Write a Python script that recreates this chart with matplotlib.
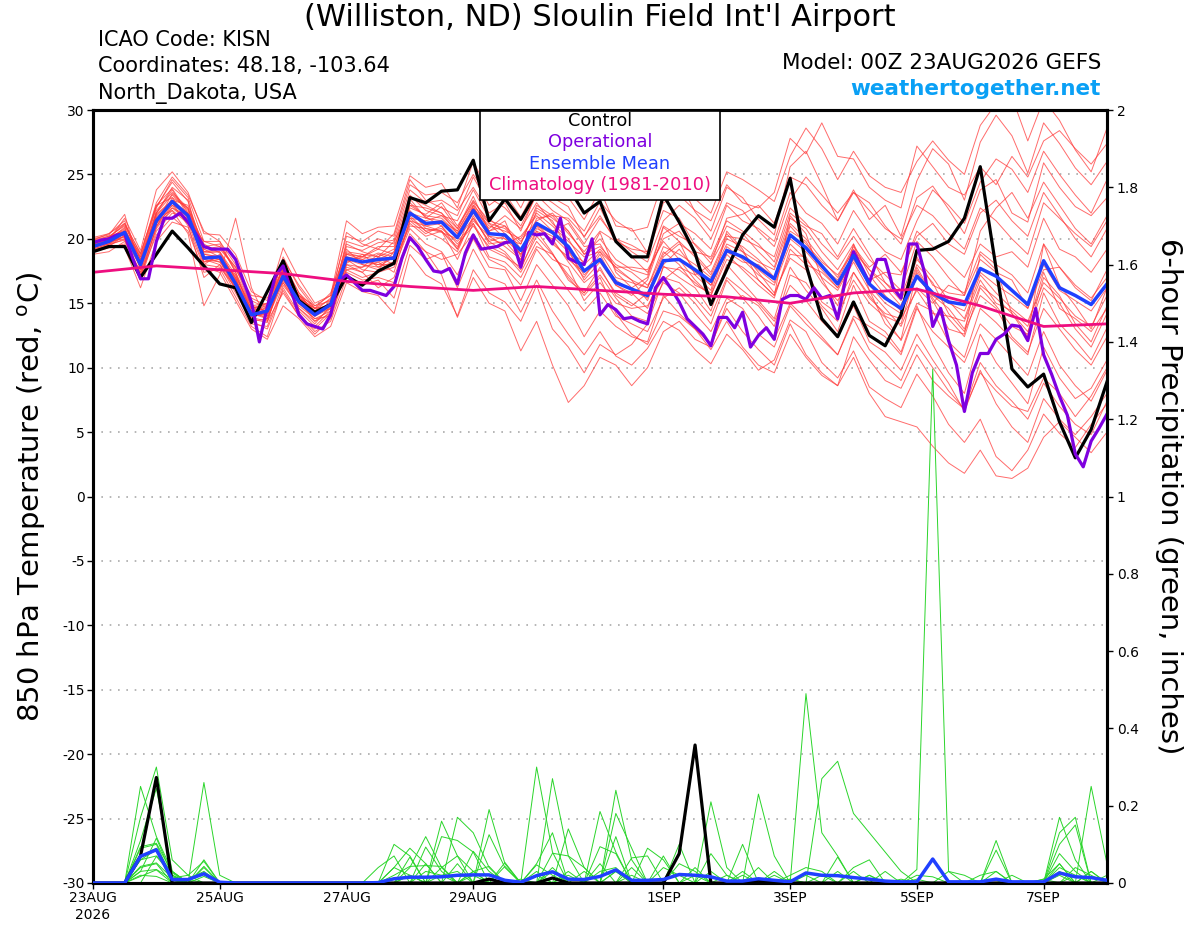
import numpy as np
import matplotlib
matplotlib.use("Agg")
from matplotlib import pyplot as plt
from matplotlib.patches import Rectangle

plt.rcParams["font.family"] = ["DejaVu Sans"]
plt.rcParams["axes.unicode_minus"] = False

# forecast hours (GEFS 00Z run, 6-hourly; operational 3-hourly)
HOURS_6 = list(range(0, 385, 6))
HOURS_3 = list(range(0, 385, 3))

DATE_TICK_DAYS = [0, 2, 4, 6, 9, 11, 13, 15]
DATE_TICK_LABELS = ["23AUG\n2026", "25AUG", "27AUG", "29AUG", "1SEP", "3SEP", "5SEP", "7SEP"]

# climatology, one value per day
CLIM_DAYS = list(range(0, 17))
CLIM_T = [17.4, 17.9, 17.6, 17.3, 16.7, 16.3, 16.0, 16.3, 16.0,
          15.7, 15.5, 15.0, 15.8, 16.1, 14.8, 13.2, 13.4]

CTRL_T = [19.0, 19.4, 19.4, 17.0, 18.8, 20.6, 19.3, 17.9,
          16.5, 16.2, 13.5, 15.9, 18.3, 15.2, 14.3, 14.9,
          17.1, 16.4, 17.5, 18.1, 23.2, 22.8, 23.7, 23.8,
          26.1, 21.4, 23.1, 21.5, 23.6, 24.5, 24.0, 22.0,
          22.9, 19.8, 18.6, 18.6, 23.4, 21.3, 18.9, 14.9,
          17.6, 20.3, 21.8, 20.9, 24.7, 18.0, 13.8, 12.4,
          15.1, 12.5, 11.7, 14.1, 19.1, 19.2, 19.8, 21.6,
          25.6, 17.7, 9.9, 8.5, 9.5, 5.8, 3.0, 5.2, 8.9]

MEAN_T = [19.4, 19.8, 20.5, 18.0, 21.4, 22.9, 21.8, 18.5,
          18.6, 16.5, 14.1, 14.4, 17.1, 15.1, 14.1, 14.9,
          18.5, 18.2, 18.4, 18.5, 22.0, 21.2, 21.3, 20.1,
          22.2, 20.4, 20.3, 19.1, 21.2, 20.5, 19.4, 17.5,
          18.4, 16.6, 16.1, 15.6, 18.3, 18.4, 17.6, 16.7,
          19.1, 18.6, 17.8, 16.9, 20.3, 19.3, 17.9, 16.5,
          18.7, 16.5, 15.4, 14.6, 17.1, 15.8, 15.1, 14.9,
          17.7, 17.1, 16.0, 14.9, 18.3, 16.2, 15.6, 14.9, 16.5]

OPER_T = [19.7, 19.9, 20.0, 20.3, 20.4, 18.5, 16.9, 16.9, 19.8, 21.6,
          21.6, 22.0, 21.3, 20.4, 19.4, 19.2, 19.2, 19.2, 18.4, 16.7,
          15.1, 12.0, 14.7, 17.1, 17.9, 16.0, 14.1, 13.4, 13.2, 13.0,
          14.1, 16.7, 17.2, 16.6, 16.0, 16.0, 15.8, 15.6, 16.3, 18.5,
          20.1, 19.4, 18.4, 17.5, 17.4, 17.7, 16.5, 18.9, 20.3, 19.2,
          19.3, 19.4, 19.7, 19.8, 17.8, 20.5, 20.3, 20.4, 19.6, 21.6,
          18.5, 18.2, 18.0, 20.0, 14.1, 14.9, 14.5, 13.8, 13.9, 13.6,
          13.4, 16.2, 17.0, 16.1, 15.1, 13.8, 13.2, 12.6, 11.7, 13.9,
          13.9, 13.1, 14.3, 11.6, 12.5, 13.1, 12.2, 15.3, 15.6, 15.6,
          15.3, 16.2, 15.4, 15.6, 13.8, 16.9, 19.0, 17.8, 16.6, 18.4,
          18.4, 16.2, 15.4, 19.6, 19.6, 17.3, 13.2, 14.6, 12.1, 10.2,
          6.6, 9.6, 11.1, 11.1, 12.2, 12.6, 13.3, 13.2, 12.1, 14.6,
          11.0, 9.5, 7.8, 6.3, 3.3, 2.3, 4.3, 5.3, 6.4]

MEMBERS_T = [
    [19.8, 20.2, 21.0, 18.6, 22.5, 24.4, 22.9, 19.0, 19.2, 17.8, 14.8, 14.0, 18.0, 15.8, 14.6, 15.3,
     20.5, 19.6, 19.2, 20.4, 24.6, 23.0, 22.4, 21.8, 24.8, 22.6, 23.5, 21.7, 24.0, 23.2, 22.5, 20.1,
     22.4, 20.0, 19.5, 18.8, 23.6, 24.5, 22.1, 20.6, 24.0, 23.2, 21.5, 20.3, 25.6, 26.8, 24.2, 21.4,
     23.8, 21.5, 22.6, 20.2, 24.5, 27.0, 25.8, 23.0, 27.5, 29.6, 28.0, 25.1, 29.0, 27.4, 25.5, 24.2, 26.0],
    [19.0, 19.3, 19.6, 17.2, 20.3, 21.7, 20.6, 17.4, 17.7, 15.5, 13.2, 12.4, 16.2, 14.2, 12.8, 13.6,
     17.0, 16.4, 16.8, 15.4, 19.5, 18.4, 18.9, 16.2, 19.2, 17.0, 16.5, 14.3, 16.8, 14.4, 12.6, 11.0,
     12.8, 10.9, 10.2, 11.5, 13.6, 12.9, 11.4, 10.3, 12.6, 11.4, 9.8, 10.6, 13.7, 12.8, 10.4, 9.2,
     11.3, 8.5, 7.6, 6.9, 9.5, 7.8, 5.6, 4.2, 6.0, 3.1, 2.0, 3.6, 6.4, 4.9, 3.8, 5.6, 7.2],
    [19.6, 20.0, 20.8, 18.4, 21.2, 23.5, 22.3, 19.6, 18.9, 16.9, 13.8, 13.5, 17.5, 15.4, 14.2, 15.0,
     19.2, 18.0, 17.6, 19.0, 23.1, 21.6, 22.5, 20.8, 23.3, 20.6, 21.4, 18.6, 22.2, 21.4, 19.0, 18.2,
     20.5, 17.4, 16.2, 17.0, 20.9, 19.8, 17.2, 16.0, 20.6, 19.2, 16.8, 15.6, 21.8, 20.4, 16.9, 14.8,
     19.6, 16.0, 13.4, 12.2, 17.4, 15.2, 13.0, 12.6, 18.8, 17.6, 14.2, 12.4, 19.6, 16.4, 14.8, 13.0, 16.2],
    [19.3, 19.9, 21.6, 19.1, 23.8, 25.2, 23.6, 20.4, 20.3, 18.8, 15.9, 15.2, 19.3, 16.9, 15.0, 15.6,
     21.4, 20.4, 20.9, 21.0, 24.9, 24.0, 24.3, 22.4, 26.0, 23.6, 24.4, 22.4, 25.0, 24.6, 23.2, 21.5,
     23.8, 21.0, 20.8, 18.9, 22.2, 21.6, 19.5, 18.1, 20.4, 19.0, 17.4, 15.8, 18.5, 17.6, 15.1, 14.2,
     16.8, 15.0, 13.9, 12.1, 15.0, 14.4, 12.0, 10.8, 14.6, 13.5, 12.2, 11.0, 15.8, 13.4, 12.1, 10.6, 13.1],
    [19.1, 19.5, 19.3, 16.2, 19.8, 21.3, 20.9, 17.8, 17.4, 15.2, 13.0, 12.2, 14.8, 13.8, 12.4, 13.2,
     16.6, 15.9, 15.6, 14.2, 18.8, 17.2, 16.5, 14.0, 17.6, 15.8, 15.1, 13.6, 16.4, 13.0, 11.6, 9.6,
     11.8, 11.0, 11.8, 13.4, 16.8, 17.8, 17.2, 18.0, 21.6, 21.9, 22.6, 21.2, 24.8, 24.2, 22.6, 21.4,
     23.6, 22.8, 21.0, 19.6, 23.2, 24.1, 22.3, 20.4, 23.8, 24.6, 22.0, 21.3, 25.9, 24.0, 22.5, 21.8, 23.2],
    [20.0, 20.3, 21.9, 17.6, 22.0, 24.0, 23.0, 18.0, 17.8, 16.2, 14.4, 14.6, 16.6, 14.6, 13.6, 14.2,
     18.1, 18.8, 17.8, 18.2, 21.0, 20.8, 20.5, 20.0, 21.6, 19.8, 19.0, 17.6, 20.6, 18.9, 16.8, 15.8,
     17.2, 15.4, 14.0, 13.6, 17.9, 17.0, 16.2, 14.4, 18.0, 16.6, 15.2, 13.8, 17.8, 16.0, 14.6, 12.8,
     16.4, 13.6, 12.8, 11.2, 14.8, 11.8, 9.6, 8.0, 12.6, 10.4, 8.8, 7.2, 11.6, 9.2, 7.6, 8.4, 10.6],
    [19.5, 19.7, 20.2, 18.2, 21.0, 22.6, 21.2, 18.9, 19.0, 16.8, 14.6, 14.9, 17.8, 15.6, 14.4, 15.4,
     19.4, 19.1, 19.7, 19.9, 23.8, 22.8, 23.0, 22.2, 24.0, 22.0, 22.8, 20.6, 23.6, 22.8, 21.9, 20.6,
     22.9, 21.4, 20.6, 20.9, 24.6, 23.8, 23.1, 22.0, 25.2, 24.6, 23.8, 22.9, 26.4, 28.6, 27.0, 24.6,
     26.8, 24.9, 24.0, 23.6, 26.0, 27.6, 26.1, 25.0, 28.8, 30.5, 31.0, 27.6, 30.8, 29.2, 26.9, 25.2, 28.6],
    [19.2, 19.6, 20.4, 17.8, 21.7, 22.8, 21.0, 17.0, 18.0, 15.8, 13.6, 13.0, 16.0, 14.0, 12.6, 13.8,
     17.6, 17.0, 17.4, 17.8, 20.8, 19.6, 19.0, 17.2, 20.0, 17.8, 17.6, 15.2, 18.0, 16.4, 14.8, 12.4,
     14.4, 13.2, 12.4, 12.0, 15.6, 14.2, 13.0, 11.8, 14.6, 12.8, 11.4, 10.2, 13.4, 11.0, 9.6, 8.6,
     10.8, 8.0, 6.2, 5.8, 5.4, 3.9, 2.6, 1.8, 3.6, 1.6, 1.4, 2.2, 4.6, 5.8, 4.6, 3.4, 5.0],
    [19.7, 20.1, 21.1, 18.9, 22.6, 23.9, 22.0, 18.2, 18.4, 16.0, 14.0, 14.2, 17.0, 15.2, 14.2, 14.6,
     18.6, 18.4, 18.9, 18.6, 22.8, 21.7, 21.0, 19.2, 22.6, 20.0, 19.6, 20.2, 21.8, 20.6, 21.2, 19.4,
     19.6, 17.6, 16.8, 15.2, 18.6, 19.6, 18.8, 17.4, 20.2, 20.0, 19.4, 18.6, 22.4, 21.2, 19.6, 18.4,
     20.2, 18.4, 17.2, 16.0, 19.8, 18.6, 17.0, 15.6, 20.6, 22.4, 23.6, 21.6, 24.4, 22.6, 20.8, 19.6, 21.8],
    [19.4, 19.8, 20.0, 16.8, 20.6, 22.0, 21.6, 18.6, 18.2, 16.4, 13.4, 13.2, 16.4, 14.8, 13.8, 14.0,
     17.8, 17.4, 16.2, 17.0, 20.4, 19.0, 17.2, 13.9, 17.0, 15.0, 14.4, 11.3, 13.6, 10.2, 7.3, 8.6,
     10.8, 10.2, 8.6, 10.0, 12.8, 13.6, 12.2, 11.6, 15.0, 15.6, 14.8, 13.2, 17.2, 16.6, 14.8, 13.6,
     17.4, 15.6, 14.0, 13.4, 17.6, 15.4, 13.8, 12.4, 16.2, 14.8, 13.2, 12.6, 17.0, 15.6, 13.4, 12.0, 14.8],
    [19.9, 20.2, 20.6, 18.0, 21.9, 23.0, 22.6, 19.4, 19.6, 17.4, 14.2, 14.7, 17.4, 15.0, 13.8, 14.4,
     18.9, 18.6, 19.2, 18.8, 22.4, 21.9, 22.8, 21.0, 22.9, 21.4, 21.0, 19.8, 21.4, 22.0, 20.6, 18.8,
     19.4, 18.0, 17.4, 16.4, 18.0, 19.2, 17.6, 16.4, 19.0, 18.2, 18.0, 17.0, 21.0, 19.6, 18.2, 17.2,
     19.0, 17.6, 16.6, 15.6, 18.6, 16.4, 15.8, 15.6, 18.4, 17.4, 16.8, 14.6, 17.6, 17.8, 16.2, 15.2, 17.6],
    [19.6, 19.9, 20.9, 17.6, 21.4, 22.6, 22.0, 18.8, 18.6, 16.6, 14.6, 15.0, 17.6, 15.6, 14.8, 15.2,
     18.8, 18.4, 18.0, 18.6, 21.6, 21.4, 21.8, 20.6, 22.6, 21.2, 20.8, 19.6, 22.6, 21.8, 20.4, 19.0,
     20.6, 19.8, 19.2, 19.0, 22.8, 23.4, 22.2, 21.4, 24.2, 22.8, 22.4, 23.6, 27.8, 26.6, 29.0, 26.4,
     26.2, 24.0, 23.0, 22.4, 27.2, 25.6, 24.0, 23.4, 25.6, 24.2, 26.4, 24.8, 27.6, 28.4, 27.0, 25.8, 27.4],
    [18.8, 19.0, 19.8, 17.4, 20.8, 22.4, 21.4, 18.4, 18.2, 17.2, 14.4, 13.8, 17.0, 14.6, 13.4, 14.8,
     17.6, 17.8, 18.2, 17.4, 21.4, 20.4, 21.0, 19.6, 21.0, 19.4, 18.8, 17.4, 19.8, 18.4, 17.8, 15.2,
     16.6, 15.0, 14.6, 14.8, 17.0, 16.6, 15.4, 14.0, 17.0, 16.0, 15.0, 13.6, 16.4, 15.2, 13.6, 12.4,
     14.8, 12.0, 11.2, 9.8, 12.6, 10.6, 8.8, 6.6, 9.8, 7.2, 5.4, 4.2, 7.6, 6.0, 4.8, 6.2, 8.0],
    [19.3, 19.8, 20.6, 18.8, 22.8, 24.8, 23.4, 20.6, 19.8, 18.0, 15.2, 14.6, 18.6, 16.2, 14.6, 14.8,
     19.8, 19.4, 20.0, 19.6, 23.4, 22.2, 21.8, 21.4, 23.8, 21.6, 20.4, 19.0, 21.0, 19.6, 18.6, 17.0,
     18.8, 16.4, 15.6, 16.8, 20.4, 21.2, 20.4, 19.2, 22.6, 21.4, 20.8, 19.8, 23.6, 22.0, 21.2, 19.6,
     22.2, 20.4, 19.0, 18.4, 21.4, 23.8, 22.6, 21.2, 24.4, 26.2, 25.4, 23.6, 26.8, 25.0, 23.4, 22.0, 24.6],
    [19.5, 20.0, 20.1, 17.1, 20.9, 23.2, 22.4, 18.6, 18.4, 16.2, 14.1, 14.0, 16.8, 15.0, 14.0, 15.2,
     18.4, 17.6, 17.4, 18.2, 21.8, 20.6, 20.0, 19.0, 21.8, 19.6, 19.8, 18.4, 20.6, 20.0, 18.2, 16.6,
     17.6, 15.8, 15.0, 14.2, 16.6, 15.8, 14.2, 12.8, 15.4, 14.6, 12.6, 11.6, 14.8, 13.4, 12.2, 11.0,
     14.0, 13.2, 12.4, 11.0, 14.6, 12.8, 11.6, 10.4, 13.4, 12.2, 10.8, 9.4, 12.8, 10.2, 8.6, 7.4, 9.8],
    [19.0, 19.4, 20.3, 18.6, 21.6, 22.2, 21.2, 18.0, 18.8, 17.0, 14.8, 15.0, 18.2, 15.8, 14.2, 15.0,
     18.2, 18.6, 19.4, 19.4, 22.6, 22.4, 22.0, 20.4, 22.4, 20.8, 21.8, 20.8, 22.8, 21.2, 20.0, 18.0,
     19.2, 17.8, 17.8, 17.6, 19.8, 18.4, 16.8, 15.6, 18.8, 17.6, 16.4, 15.4, 19.2, 18.0, 17.4, 16.2,
     18.6, 16.8, 17.4, 17.2, 20.6, 19.4, 18.2, 17.0, 19.6, 18.6, 19.0, 17.8, 21.6, 19.2, 18.6, 17.4, 19.2],
    [20.1, 20.4, 21.4, 17.9, 22.2, 23.6, 22.4, 19.2, 18.6, 17.0, 13.9, 13.6, 17.2, 14.4, 13.2, 14.4,
     18.0, 17.4, 18.6, 19.8, 22.2, 20.8, 20.6, 18.4, 21.2, 18.6, 18.2, 17.0, 19.4, 18.8, 17.0, 15.6,
     17.0, 14.2, 12.6, 11.8, 14.4, 14.0, 13.0, 11.4, 13.6, 11.6, 10.2, 9.6, 12.6, 10.8, 9.4, 8.6,
     12.4, 10.6, 9.0, 8.4, 11.0, 9.0, 7.8, 6.8, 9.6, 8.2, 7.0, 6.6, 9.2, 8.0, 6.2, 7.8, 10.0],
    [19.2, 19.6, 19.9, 17.4, 21.2, 22.4, 21.8, 19.2, 19.4, 17.6, 15.6, 15.4, 17.6, 15.4, 14.6, 15.8,
     19.0, 18.8, 18.6, 18.0, 21.2, 20.2, 20.6, 19.4, 21.4, 20.2, 19.4, 18.4, 21.6, 21.8, 21.6, 20.2,
     21.8, 19.8, 18.6, 17.4, 20.0, 20.6, 19.0, 18.6, 21.4, 20.6, 19.6, 18.2, 22.0, 21.0, 20.4, 18.6,
     20.8, 18.8, 16.6, 15.2, 18.4, 17.0, 15.2, 13.8, 17.2, 15.8, 14.6, 13.6, 16.6, 15.4, 14.0, 13.2, 15.6],
    [19.8, 20.0, 20.4, 18.2, 22.0, 23.8, 21.8, 18.4, 18.0, 16.2, 13.6, 13.8, 16.6, 15.0, 14.0, 14.6,
     18.4, 18.0, 17.8, 18.6, 22.0, 21.6, 21.4, 20.6, 22.8, 20.6, 21.0, 19.2, 21.0, 20.4, 19.2, 16.8,
     18.2, 16.4, 15.8, 14.6, 17.8, 17.6, 16.6, 15.6, 18.4, 17.8, 16.8, 15.6, 18.8, 18.6, 16.6, 15.2,
     17.4, 15.4, 14.2, 13.8, 16.0, 14.2, 14.0, 13.6, 16.8, 15.0, 14.4, 13.2, 17.4, 14.6, 13.8, 12.8, 14.6],
    [19.6, 20.1, 21.2, 18.8, 22.6, 23.2, 21.6, 19.8, 19.8, 17.4, 14.8, 14.4, 17.2, 15.4, 14.6, 14.8,
     19.6, 19.0, 18.6, 19.2, 23.2, 22.6, 22.0, 20.8, 23.0, 21.2, 20.0, 19.6, 22.4, 21.6, 20.6, 18.8,
     20.0, 18.4, 17.6, 17.2, 21.0, 20.2, 19.6, 18.4, 21.0, 20.4, 19.0, 17.8, 21.6, 20.8, 19.0, 17.6,
     19.6, 17.2, 15.6, 14.4, 17.8, 15.6, 14.6, 13.0, 16.4, 15.4, 14.2, 12.8, 16.2, 15.0, 13.0, 11.6, 14.2],
    [19.4, 19.6, 20.2, 17.0, 21.0, 22.2, 20.4, 14.8, 17.2, 21.6, 16.2, 13.6, 15.8, 14.0, 13.0, 14.2,
     17.4, 16.8, 17.0, 16.6, 20.0, 19.0, 18.4, 18.8, 20.4, 18.4, 17.8, 16.4, 19.2, 17.6, 16.0, 14.4,
     15.8, 14.0, 13.4, 12.8, 15.4, 16.2, 15.0, 13.4, 16.8, 15.4, 14.0, 12.2, 15.0, 13.8, 12.4, 11.0,
     13.8, 11.4, 10.2, 9.0, 11.8, 10.0, 8.2, 6.8, 10.4, 8.6, 7.4, 6.0, 8.8, 7.0, 5.6, 4.8, 7.4],
    [19.9, 20.4, 21.2, 18.4, 22.4, 24.6, 23.2, 19.8, 19.4, 17.8, 15.4, 14.8, 18.4, 16.4, 14.8, 15.6,
     20.2, 19.8, 20.6, 20.2, 24.2, 23.4, 23.6, 22.8, 25.0, 23.2, 22.4, 21.0, 23.4, 22.2, 21.4, 19.6,
     21.6, 20.0, 19.0, 18.2, 21.4, 22.6, 21.6, 20.0, 22.8, 22.2, 20.6, 19.4, 23.0, 24.8, 23.4, 22.0,
     23.6, 22.2, 20.8, 20.0, 22.6, 21.8, 20.4, 19.2, 22.4, 21.4, 20.0, 18.8, 22.8, 21.6, 20.4, 19.4, 21.4],
    [19.1, 19.5, 20.0, 17.8, 21.2, 22.8, 21.6, 18.6, 18.4, 16.8, 14.2, 13.8, 17.0, 15.2, 13.6, 14.6,
     18.0, 17.8, 18.8, 18.4, 21.6, 20.6, 20.8, 19.8, 21.2, 19.2, 18.6, 17.8, 20.2, 18.8, 17.2, 15.8,
     17.8, 15.6, 14.8, 15.8, 18.8, 19.8, 18.6, 17.2, 20.0, 19.4, 18.4, 17.0, 20.6, 19.8, 17.8, 16.8,
     19.2, 17.6, 16.2, 14.8, 18.0, 16.6, 14.2, 12.8, 15.6, 14.6, 12.4, 11.2, 14.6, 13.0, 11.4, 10.2, 12.4],
    [19.7, 20.0, 20.7, 18.4, 22.0, 23.4, 22.2, 19.0, 19.0, 17.2, 14.6, 14.4, 17.4, 15.6, 14.4, 15.0,
     18.8, 18.6, 18.4, 19.0, 22.6, 21.8, 21.6, 20.4, 22.4, 21.0, 20.6, 20.0, 22.0, 21.0, 19.8, 18.6,
     19.0, 17.8, 16.8, 16.2, 19.4, 18.8, 18.0, 17.0, 19.6, 19.0, 18.2, 17.6, 21.2, 20.0, 18.4, 17.0,
     19.4, 17.8, 18.8, 17.4, 20.2, 21.2, 19.6, 18.8, 22.0, 23.0, 21.4, 20.2, 23.6, 21.8, 20.0, 18.6, 20.8],
    [19.3, 19.7, 20.5, 18.2, 21.8, 23.0, 22.0, 18.8, 18.6, 16.4, 14.4, 14.8, 17.6, 15.4, 14.4, 15.0,
     18.6, 18.2, 18.0, 18.0, 21.4, 21.0, 20.6, 19.2, 21.6, 19.8, 20.2, 18.8, 21.2, 19.8, 18.4, 17.4,
     19.0, 17.0, 16.6, 16.2, 19.0, 18.0, 16.4, 15.8, 19.4, 18.4, 17.2, 16.4, 19.6, 18.4, 17.0, 16.0,
     18.2, 16.0, 14.6, 13.2, 16.2, 15.0, 16.4, 15.8, 19.0, 18.0, 17.2, 15.8, 19.6, 17.8, 16.4, 15.4, 17.0],
    [19.5, 19.9, 20.5, 17.8, 21.6, 23.0, 21.8, 18.2, 18.6, 16.6, 14.0, 14.2, 16.8, 15.0, 14.0, 14.8,
     18.4, 18.2, 18.2, 18.6, 22.0, 21.0, 21.2, 20.0, 22.0, 20.2, 20.0, 18.8, 20.8, 20.2, 19.0, 17.2,
     18.4, 16.8, 16.0, 15.4, 18.4, 18.4, 17.4, 16.4, 19.0, 18.6, 17.6, 16.6, 20.0, 19.0, 17.6, 16.2,
     18.4, 16.4, 15.0, 14.2, 17.0, 15.6, 15.0, 14.4, 17.4, 16.4, 15.6, 14.6, 18.0, 16.0, 15.2, 14.4, 16.2],
]

# 6-hour precipitation (inches)
CTRL_P = [0, 0, 0, 0.07, 0.273, 0, 0, 0, 0, 0, 0, 0, 0, 0, 0, 0,
          0, 0, 0, 0, 0, 0, 0, 0, 0, 0.01, 0, 0, 0, 0.013, 0, 0,
          0, 0, 0, 0, 0, 0.076, 0.357, 0, 0, 0, 0.007, 0, 0, 0, 0, 0,
          0, 0, 0, 0, 0, 0, 0, 0, 0, 0, 0, 0, 0, 0, 0, 0, 0]

MEAN_P = [0, 0, 0, 0.069, 0.086, 0.009, 0.009, 0.024, 0.002, 0, 0, 0, 0, 0, 0, 0,
          0, 0, 0.001, 0.011, 0.015, 0.015, 0.016, 0.020, 0.021, 0.021, 0.007, 0.002, 0.019, 0.029, 0.010, 0.009,
          0.017, 0.034, 0.007, 0.007, 0.009, 0.022, 0.020, 0.016, 0.005, 0.005, 0.011, 0.007, 0.003, 0.026, 0.020, 0.019,
          0.014, 0.010, 0.005, 0.003, 0.003, 0.062, 0.003, 0.003, 0.003, 0.010, 0.003, 0.003, 0.003, 0.026, 0.016, 0.014, 0.007]

# members: {6-hour step: precip}, other steps are dry
MEMBERS_P = [
    {3: 0.25, 4: 0.12, 5: 0.03, 19: 0.04, 20: 0.09, 21: 0.05, 28: 0.30, 29: 0.08, 33: 0.24, 34: 0.06,
     45: 0.49, 46: 0.13, 47: 0.07, 61: 0.17, 62: 0.06},
    {3: 0.17, 4: 0.30, 5: 0.06, 6: 0.02, 22: 0.16, 23: 0.07, 24: 0.03, 29: 0.27, 30: 0.07, 39: 0.21,
     40: 0.04, 46: 0.27, 47: 0.315, 48: 0.18, 49: 0.13, 50: 0.08, 51: 0.03, 63: 0.25, 64: 0.05},
    {3: 0.11, 4: 0.245, 5: 0.03, 7: 0.26, 8: 0.02, 20: 0.04, 21: 0.12, 22: 0.04, 25: 0.19, 26: 0.05,
     32: 0.185, 33: 0.08, 42: 0.23, 43: 0.07, 52: 0.035, 53: 1.33, 54: 0.03, 61: 0.13, 62: 0.17},
    {3: 0.09, 4: 0.10, 5: 0.01, 7: 0.06, 19: 0.10, 20: 0.07, 23: 0.17, 24: 0.13, 25: 0.04, 30: 0.14,
     31: 0.04, 33: 0.18, 34: 0.09, 37: 0.10, 41: 0.10, 57: 0.11, 61: 0.10, 62: 0.15},
    {3: 0.07, 4: 0.09, 5: 0.02, 18: 0.04, 19: 0.07, 22: 0.12, 23: 0.11, 24: 0.08, 28: 0.05, 29: 0.13,
     33: 0.12, 35: 0.09, 36: 0.06, 44: 0.02, 45: 0.04, 46: 0.03, 57: 0.085, 61: 0.076, 62: 0.03},
    {3: 0.06, 4: 0.07, 5: 0.03, 7: 0.04, 21: 0.05, 25: 0.125, 26: 0.04, 32: 0.094, 33: 0.076, 39: 0.076,
     40: 0.02, 48: 0.04, 49: 0.06, 57: 0.03, 61: 0.05, 63: 0.03},
    {3: 0.04, 4: 0.05, 6: 0.01, 7: 0.03, 20: 0.02, 22: 0.04, 23: 0.07, 29: 0.077, 30: 0.07, 31: 0.04,
     34: 0.065, 35: 0.07, 38: 0.04, 43: 0.03, 47: 0.067, 52: 0.02, 53: 0.016, 60: 0.01, 61: 0.05},
    {3: 0.03, 4: 0.035, 5: 0.01, 7: 0.017, 24: 0.03, 25: 0.043, 28: 0.047, 29: 0.02, 36: 0.04, 37: 0.02,
     42: 0.04, 50: 0.03, 56: 0.02, 57: 0.03, 64: 0.02},
    {3: 0.02, 4: 0.017, 19: 0.02, 20: 0.043, 21: 0.045, 22: 0.043, 26: 0.053, 28: 0.03, 33: 0.03,
     38: 0.02, 45: 0.02, 49: 0.02, 54: 0.03, 55: 0.02, 62: 0.04, 63: 0.02},
    {3: 0.043, 4: 0.052, 5: 0.013, 6: 0.02, 7: 0.056, 21: 0.093, 22: 0.03, 24: 0.082, 25: 0.03, 29: 0.04,
     32: 0.05, 34: 0.04, 36: 0.07, 44: 0.01, 48: 0.03, 61: 0.04, 62: 0.02},
    {4: 0.069, 5: 0.02, 19: 0.04, 20: 0.02, 23: 0.05, 30: 0.02, 33: 0.03, 41: 0.03, 47: 0.03, 57: 0.01, 60: 0.01},
    {3: 0.06, 4: 0.086, 7: 0.043, 20: 0.067, 24: 0.03, 27: 0.01, 30: 0.03, 37: 0.05, 38: 0.03, 46: 0.02,
     58: 0.02, 61: 0.03},
    {3: 0.03, 4: 0.116, 5: 0.02, 22: 0.02, 23: 0.03, 26: 0.043, 32: 0.03, 33: 0.04, 40: 0.02, 44: 0.01,
     52: 0.01, 63: 0.03},
    {3: 0.017, 4: 0.034, 6: 0.01, 21: 0.03, 22: 0.02, 29: 0.03, 31: 0.03, 39: 0.03, 41: 0.02, 49: 0.02, 62: 0.02},
    {3: 0.094, 4: 0.103, 5: 0.026, 20: 0.02, 24: 0.02, 28: 0.02, 34: 0.02, 43: 0.02, 51: 0.01, 61: 0.02},
]

W, H = 1200, 927


def fx(px):
    return px / W


def fy(py):
    return 1 - py / H


def main():
    days6 = np.array(HOURS_6) / 24.0
    days3 = np.array(HOURS_3) / 24.0

    fig = plt.figure(figsize=(12, 9.27), dpi=100)
    ax = fig.add_axes([fx(93), fy(883), fx(1107) - fx(93), fy(110) - fy(883)])
    ax2 = ax.twinx()

    # temperature
    for m in MEMBERS_T:
        ax.plot(days6, m, color="#ff3a3a", lw=0.7, alpha=0.75, zorder=2)
    ax.plot(days6, CTRL_T, color="black", lw=2.3, zorder=4)
    ax.plot(days3, OPER_T, color="#7f00df", lw=2.3, zorder=5)
    ax.plot(days6, MEAN_T, color="#2040ff", lw=2.5, zorder=6)
    ax.plot(CLIM_DAYS, CLIM_T, color="#ee0e80", lw=2.0, zorder=7)

    # precipitation
    for ev in MEMBERS_P:
        p = np.zeros(len(HOURS_6))
        for k, v in ev.items():
            p[k] = v
        ax2.plot(days6, p, color="#2ad52a", lw=0.7, zorder=2)
    ax2.plot(days6, CTRL_P, color="black", lw=2.3, zorder=4)
    ax2.plot(days6, MEAN_P, color="#2040ff", lw=2.5, zorder=5)

    ax.set_xlim(0, 16)
    ax.set_ylim(-30, 30)
    ax2.set_ylim(0, 2)
    ax.set_yticks(np.arange(-30, 31, 5))
    ax.set_yticklabels([str(v) for v in range(-30, 31, 5)])
    p_ticks = np.linspace(0, 2, 11)
    ax2.set_yticks(p_ticks)
    ax2.set_yticklabels(["%g" % round(v, 1) for v in p_ticks])
    ax.set_xticks(DATE_TICK_DAYS)
    ax.set_xticklabels(DATE_TICK_LABELS)

    for v in range(-25, 30, 5):
        ax.axhline(v, color="#aaaaaa", lw=1.2, ls=(0, (1, 4)), zorder=1)

    ax.tick_params(axis="both", direction="out", length=4, width=1, labelsize=10, pad=2)
    ax2.tick_params(axis="y", direction="out", length=4, width=1, labelsize=10, pad=3)
    for a in (ax, ax2):
        for s in a.spines.values():
            s.set_linewidth(2.2)

    ax.set_ylabel("850 hPa Temperature (red, $^\\mathregular{o}$C)", fontsize=21, labelpad=10)
    ax2.set_ylabel("6-hour Precipitation (green, inches)", fontsize=21, rotation=270, labelpad=32)

    # header
    fig.text(0.5, fy(18), "(Williston, ND) Sloulin Field Int'l Airport", ha="center", va="center", fontsize=22)
    fig.text(fx(98), fy(40), "ICAO Code: KISN", ha="left", va="center", fontsize=15)
    fig.text(fx(98), fy(66), "Coordinates: 48.18, -103.64", ha="left", va="center", fontsize=15)
    fig.text(fx(98), fy(93), "North_Dakota, USA", ha="left", va="center", fontsize=15)
    fig.text(fx(1101), fy(63), "Model: 00Z 23AUG2026 GEFS", ha="right", va="center", fontsize=15.5)
    fig.text(fx(1101), fy(89), "weathertogether.net", ha="right", va="center", fontsize=15.5,
             fontweight="bold", color="#0aa0f5")

    # legend box
    fig.add_artist(Rectangle((fx(480), fy(200)), fx(720) - fx(480), fy(111) - fy(200),
                             transform=fig.transFigure, facecolor="white", edgecolor="black",
                             lw=1.2, zorder=5))
    leg = [("Control", "black"), ("Operational", "#7f00df"),
           ("Ensemble Mean", "#2040ff"), ("Climatology (1981-2010)", "#ee0e80")]
    for k, (txt, col) in enumerate(leg):
        fig.text(fx(600), fy(121 + 21.3 * k), txt, ha="center", va="center", fontsize=12.8,
                 color=col, zorder=6)

    fig.savefig("out.png", dpi=100)


if __name__ == "__main__":
    main()
